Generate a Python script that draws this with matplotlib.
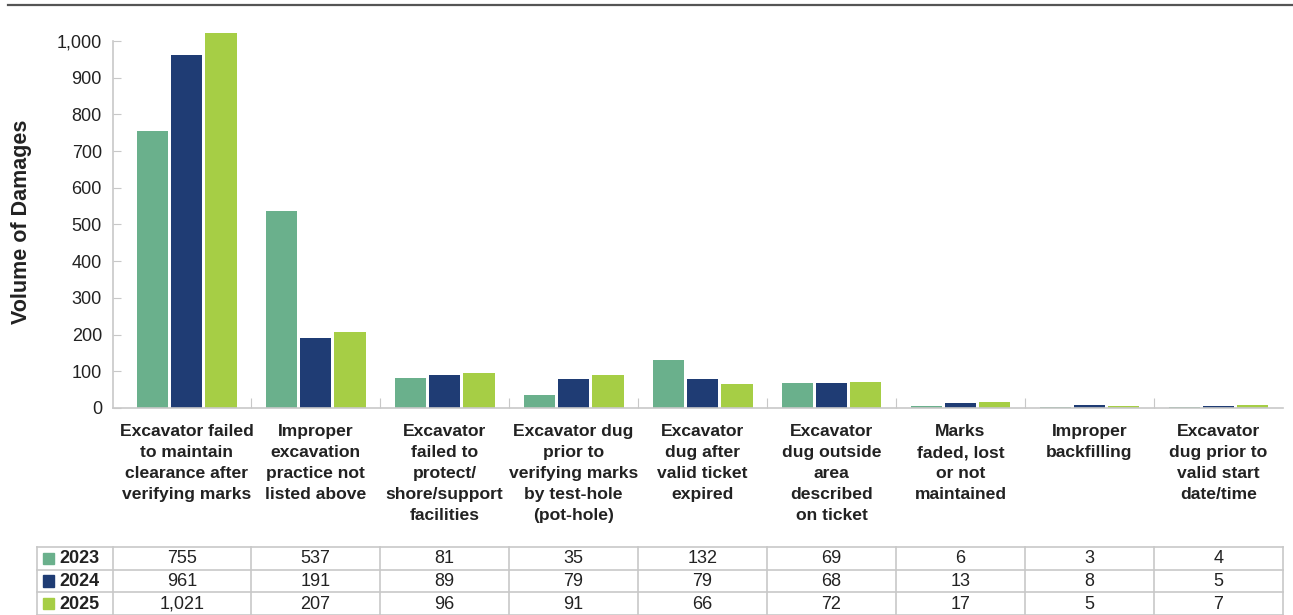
import numpy as np
from matplotlib import pyplot as plt

plt.rcParams['font.family'] = ['Liberation Sans', 'DejaVu Sans']

# damage root causes, one group of bars per cause
categories = [
    "Excavator failed\nto maintain\nclearance after\nverifying marks",
    "Improper\nexcavation\npractice not\nlisted above",
    "Excavator\nfailed to\nprotect/\nshore/support\nfacilities",
    "Excavator dug\nprior to\nverifying marks\nby test-hole\n(pot-hole)",
    "Excavator\ndug after\nvalid ticket\nexpired",
    "Excavator\ndug outside\narea\ndescribed\non ticket",
    "Marks\nfaded, lost\nor not\nmaintained",
    "Improper\nbackfilling",
    "Excavator\ndug prior to\nvalid start\ndate/time",
]
years = ["2023", "2024", "2025"]
vals_2023 = [755, 537, 81, 35, 132, 69, 6, 3, 4]
vals_2024 = [961, 191, 89, 79, 79, 68, 13, 8, 5]
vals_2025 = [1021, 207, 96, 91, 66, 72, 17, 5, 7]
colors = ["#6ab08c", "#1f3c74", "#a6ce45"]
yticks = [0, 100, 200, 300, 400, 500, 600, 700, 800, 900, 1000]

series = [vals_2023, vals_2024, vals_2025]
text_col = "#222222"
grid_col = "#c8c8c8"

W, H = 1293, 615
fig = plt.figure(figsize=(W / 100, H / 100), dpi=100)

# page rule across the top
fig.add_artist(plt.Line2D([8 / W, 1.0], [1 - 5 / H, 1 - 5 / H], color="#555555", lw=1.6))

ax = fig.add_axes([113 / W, 207 / H, 1170 / W, 385.4 / H])
x = np.arange(len(categories))
xmin, xmax = -0.57, 8.5
bw, step = 0.245, 0.265
for i, (vals, c) in enumerate(zip(series, colors)):
    ax.bar(x + (i - 1) * step, vals, width=bw, color=c, label=years[i])

ax.set_xlim(xmin, xmax)
ax.set_ylim(0, 1050)
ax.set_yticks(yticks)
ax.set_yticklabels([f"{v:,}" for v in yticks], fontsize=13, color=text_col)
ax.set_xticks(np.arange(0.5, len(categories) - 0.5, 1.0))
ax.set_xticklabels([])
ax.tick_params(axis="y", direction="in", length=6, color=grid_col, pad=8)
ax.tick_params(axis="x", direction="in", length=7, color=grid_col)
for s in ["top", "right"]:
    ax.spines[s].set_visible(False)
ax.spines["left"].set_bounds(0, 1000)
for s in ["left", "bottom"]:
    ax.spines[s].set_color(grid_col)
    ax.spines[s].set_linewidth(1.2)

for xi, lab in zip(x, categories):
    ax.text(xi, -0.042, lab, transform=ax.get_xaxis_transform(), ha="center", va="top",
            fontsize=12.6, fontweight="bold", color=text_col, linespacing=1.5)

fig.text(22 / W, 1 - 222 / H, "Volume of Damages", rotation=90, ha="center", va="center",
         fontsize=15.5, fontweight="bold", color=text_col)

# data table under the chart, columns lined up with the bar groups
tab_left = xmin - 76 / 129
tax = fig.add_axes([37 / W, 0, 1246 / W, 68 / H])
tax.set_xlim(tab_left, xmax)
tax.set_ylim(3, 0)
tax.axis("off")
for yy in range(4):
    tax.plot([tab_left, xmax], [yy, yy], color=grid_col, lw=1.2, clip_on=False)
for xx in [tab_left, xmin] + list(np.arange(0.5, len(categories), 1.0)):
    tax.plot([xx, xx], [0, 3], color=grid_col, lw=1.2, clip_on=False)
for r, (vals, c) in enumerate(zip(series, colors)):
    tax.add_patch(plt.Rectangle((tab_left + 0.05, r + 0.25), 0.085, 0.5, color=c))
    tax.text(tab_left + 0.17, r + 0.52, years[r], ha="left", va="center",
             fontsize=13, fontweight="bold", color=text_col)
    for ci, v in enumerate(vals):
        cx = (xmin + 0.5) / 2 if ci == 0 else ci
        tax.text(cx, r + 0.52, f"{v:,}", ha="center", va="center", fontsize=13, color=text_col)

fig.savefig("out.png", dpi=100)
